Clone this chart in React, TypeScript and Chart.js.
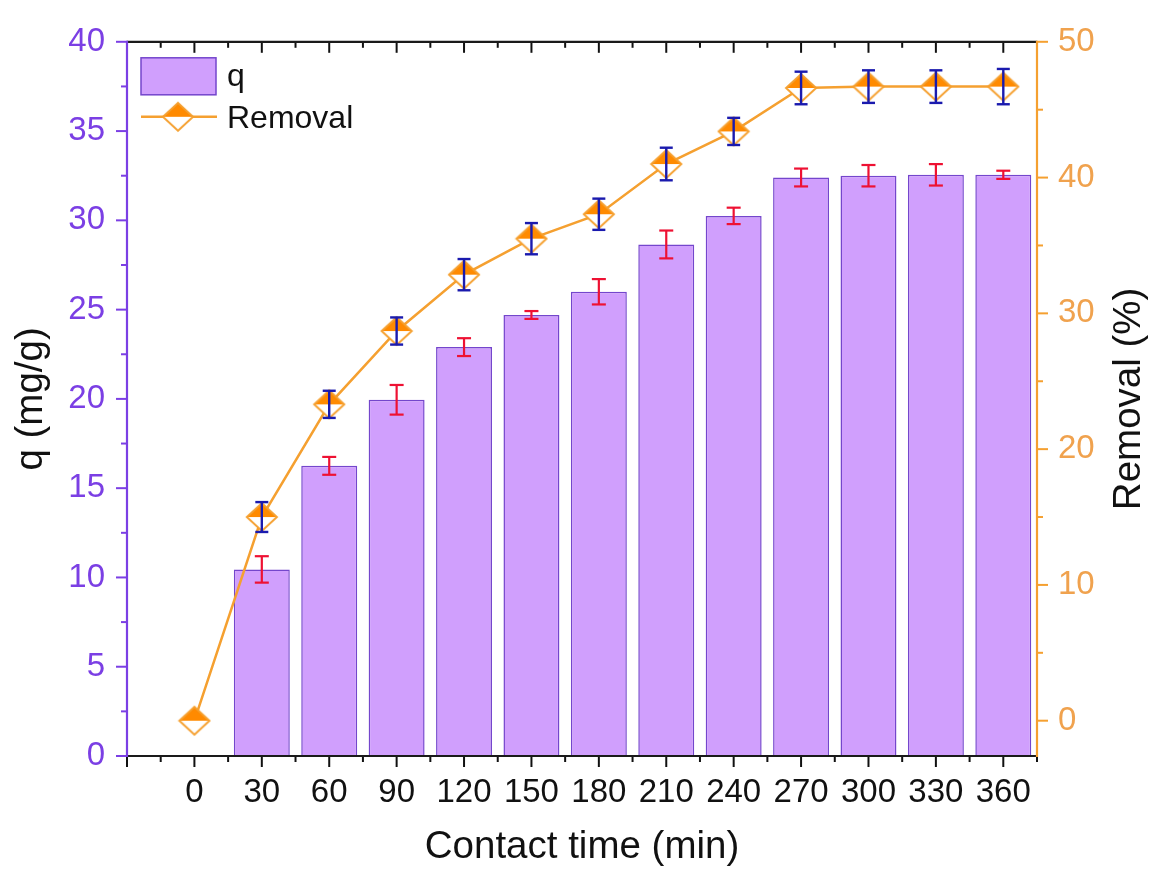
import React, { useEffect, useRef } from 'react';
import { Chart, registerables } from 'chart.js';

Chart.register(...registerables);

// ---------- data ----------
const timeValues = [0, 30, 60, 90, 120, 150, 180, 210, 240, 270, 300, 330, 360];
const qTimes = [30, 60, 90, 120, 150, 180, 210, 240, 270, 300, 330, 360];
const qValues = [10.45, 16.25, 19.95, 22.9, 24.7, 26.0, 28.65, 30.25, 32.4, 32.5, 32.55, 32.55];
const qErrors = [0.74, 0.5, 0.83, 0.5, 0.22, 0.71, 0.78, 0.46, 0.5, 0.6, 0.6, 0.23];
const removalValues = [0, 15.0, 23.3, 28.7, 32.85, 35.5, 37.3, 41.0, 43.4, 46.6, 46.7, 46.7, 46.7];
const removalErrors = [0, 1.1, 1.0, 1.0, 1.15, 1.15, 1.15, 1.2, 1.0, 1.2, 1.2, 1.2, 1.3];
const xTickValues = [0, 30, 60, 90, 120, 150, 180, 210, 240, 270, 300, 330, 360];
const leftTickValues = [0, 5, 10, 15, 20, 25, 30, 35, 40];
const rightTickValues = [0, 10, 20, 30, 40, 50];
const rightTitle = 'Removal (%)';

// ---------- styles ----------
const FONT = "'Liberation Sans', Arial, sans-serif";
const TICK_SIZE = 33;
const TITLE_SIZE = 38.5;
const BAR_FILL = '#D09FFD';
const BAR_BORDER = '#7446CC';
const PURPLE = '#7B3FE4';
const ORANGE_LINE = '#F5A030';
const ORANGE_TEXT = '#F0A24E';
const MARKER_FILL = '#FF8A00';
const RED = '#EE1133';
const BLUE = '#1A1AAE';

function makeMarker(w: number, h: number): HTMLCanvasElement {
  const c = document.createElement('canvas');
  c.width = w + 4;
  c.height = h + 4;
  const ctx = c.getContext('2d')!;
  const cx = c.width / 2;
  const cy = c.height / 2;
  ctx.beginPath();
  ctx.moveTo(cx - w / 2, cy);
  ctx.lineTo(cx, cy + h / 2);
  ctx.lineTo(cx + w / 2, cy);
  ctx.closePath();
  ctx.fillStyle = '#ffffff';
  ctx.fill();
  ctx.beginPath();
  ctx.moveTo(cx - w / 2, cy);
  ctx.lineTo(cx, cy - h / 2);
  ctx.lineTo(cx + w / 2, cy);
  ctx.closePath();
  ctx.fillStyle = MARKER_FILL;
  ctx.fill();
  ctx.beginPath();
  ctx.moveTo(cx - w / 2, cy);
  ctx.lineTo(cx, cy - h / 2);
  ctx.lineTo(cx + w / 2, cy);
  ctx.lineTo(cx, cy + h / 2);
  ctx.closePath();
  ctx.strokeStyle = ORANGE_LINE;
  ctx.lineWidth = 2;
  ctx.stroke();
  return c;
}

function seg(ctx: CanvasRenderingContext2D, x1: number, y1: number, x2: number, y2: number, color: string, w: number) {
  ctx.beginPath();
  ctx.moveTo(x1, y1);
  ctx.lineTo(x2, y2);
  ctx.strokeStyle = color;
  ctx.lineWidth = w;
  ctx.stroke();
}

function drawErrorBar(ctx: CanvasRenderingContext2D, x: number, yTop: number, yBot: number, color: string, cap: number, w: number) {
  seg(ctx, x, yTop, x, yBot, color, w);
  seg(ctx, x - cap / 2, yTop, x + cap / 2, yTop, color, w);
  seg(ctx, x - cap / 2, yBot, x + cap / 2, yBot, color, w);
}

export default function App() {
  const ref = useRef<HTMLCanvasElement | null>(null);

  useEffect(() => {
    if (!ref.current) return;
    const marker = makeMarker(30, 28);

    const plugin = {
      id: 'customDecor',
      afterDatasetDraw(chart: any, args: any) {
        const ctx = chart.ctx as CanvasRenderingContext2D;
        const meta = args.meta;
        ctx.save();
        if (args.index === 0) {
          const ys = chart.scales.y;
          meta.data.forEach((el: any, i: number) => {
            const t = ys.getPixelForValue(qValues[i] + qErrors[i]);
            const b = ys.getPixelForValue(qValues[i] - qErrors[i]);
            drawErrorBar(ctx, el.x, t, b, RED, 14, 2.2);
          });
        } else if (args.index === 1) {
          const ys = chart.scales.y1;
          meta.data.forEach((el: any, i: number) => {
            if (!removalErrors[i]) return;
            const t = ys.getPixelForValue(removalValues[i] + removalErrors[i]);
            const b = ys.getPixelForValue(removalValues[i] - removalErrors[i]);
            drawErrorBar(ctx, el.x, t, b, BLUE, 13, 2.4);
          });
        }
        ctx.restore();
      },
      afterDraw(chart: any) {
        const ctx = chart.ctx as CanvasRenderingContext2D;
        const ca = chart.chartArea;
        const xs = chart.scales.x;
        const ys = chart.scales.y;
        const y1 = chart.scales.y1;
        ctx.save();
        ctx.lineCap = 'butt';
        // x axis (bottom + top)
        for (let v = xs.min; v <= xs.max + 0.01; v += 15) {
          const px = xs.getPixelForValue(v);
          const major = Math.abs(v % 30) < 0.01;
          const len = major ? 11 : 6;
          seg(ctx, px, ca.bottom, px, ca.bottom + len, '#111', 2);
          seg(ctx, px, ca.top, px, ca.top + len, '#111', 2);
        }
        seg(ctx, ca.left, ca.bottom, ca.right, ca.bottom, '#1a1a1a', 2.2);
        seg(ctx, ca.left, ca.top, ca.right, ca.top, '#1a1a1a', 2.2);
        // left axis
        for (let v = 0; v <= ys.max + 0.01; v += 2.5) {
          const py = ys.getPixelForValue(v);
          const major = Math.abs(v % 5) < 0.01;
          seg(ctx, ca.left, py, ca.left - (major ? 11 : 6), py, PURPLE, 2);
        }
        seg(ctx, ca.left, ca.top - 1, ca.left, ca.bottom + 1, PURPLE, 2.2);
        // right axis
        for (let v = 0; v <= y1.max + 0.01; v += 5) {
          const py = y1.getPixelForValue(v);
          const major = Math.abs(v % 10) < 0.01;
          seg(ctx, ca.right, py, ca.right + (major ? 11 : 6), py, ORANGE_LINE, 2);
        }
        seg(ctx, ca.right, ca.top - 1, ca.right, ca.bottom + 1, ORANGE_LINE, 2.2);

        // right axis title (reads bottom-to-top)
        ctx.save();
        ctx.translate(y1.right - 21, (ca.top + ca.bottom) / 2);
        ctx.rotate(-Math.PI / 2);
        ctx.fillStyle = '#111';
        ctx.font = `${TITLE_SIZE}px ${FONT}`;
        ctx.textAlign = 'center';
        ctx.textBaseline = 'middle';
        ctx.fillText(rightTitle, 0, 0);
        ctx.restore();

        // legend
        const lx = ca.left + 14;
        const ly = ca.top + 16;
        ctx.fillStyle = BAR_FILL;
        ctx.fillRect(lx, ly, 75, 37);
        ctx.strokeStyle = BAR_BORDER;
        ctx.lineWidth = 1.5;
        ctx.strokeRect(lx, ly, 75, 37);
        ctx.fillStyle = '#111';
        ctx.font = `32px ${FONT}`;
        ctx.textBaseline = 'alphabetic';
        ctx.textAlign = 'left';
        ctx.fillText(chart.data.datasets[0].label, lx + 86, ly + 28);
        const rowY = ly + 59;
        seg(ctx, lx, rowY, lx + 76, rowY, ORANGE_LINE, 2.5);
        ctx.drawImage(marker, lx + 37 - marker.width / 2, rowY - marker.height / 2);
        ctx.fillStyle = '#111';
        ctx.fillText(chart.data.datasets[1].label, lx + 86, rowY + 11);
        ctx.restore();
      },
    };

    const chart = new Chart(ref.current, {
      type: 'bar',
      data: {
        datasets: [
          {
            type: 'bar',
            label: 'q',
            data: qTimes.map((t, i) => ({ x: t, y: qValues[i] })),
            xAxisID: 'x',
            yAxisID: 'y',
            backgroundColor: BAR_FILL,
            borderColor: BAR_BORDER,
            borderWidth: 1.5,
            barPercentage: 0.83,
            categoryPercentage: 1,
            order: 2,
          } as any,
          {
            type: 'line',
            label: 'Removal',
            data: timeValues.map((t, i) => ({ x: t, y: removalValues[i] })),
            xAxisID: 'x',
            yAxisID: 'y1',
            borderColor: ORANGE_LINE,
            borderWidth: 2.5,
            tension: 0,
            pointStyle: marker,
            pointRadius: 15,
            order: 1,
          } as any,
        ],
      },
      options: {
        responsive: false,
        devicePixelRatio: 1,
        animation: false,
        layout: { padding: { top: 33, left: 0, right: 0, bottom: 0 } },
        plugins: {
          legend: { display: false },
          tooltip: { enabled: false },
        },
        scales: {
          x: {
            type: 'linear',
            min: -30,
            max: 375,
            offset: false,
            afterBuildTicks: (s: any) => {
              s.ticks = xTickValues.map((v) => ({ value: v }));
            },
            afterFit: (s: any) => {
              s.height = 116;
            },
            grid: { display: false, drawTicks: false },
            border: { display: false },
            ticks: {
              autoSkip: false,
              maxRotation: 0,
              padding: 17,
              color: '#111',
              font: { family: FONT, size: TICK_SIZE },
            },
            title: {
              display: true,
              text: 'Contact time (min)',
              color: '#111',
              font: { family: FONT, size: TITLE_SIZE, lineHeight: 1 },
              padding: { top: 0, bottom: 5 },
            },
          },
          y: {
            type: 'linear',
            position: 'left',
            min: 0,
            max: 40,
            afterBuildTicks: (s: any) => {
              s.ticks = leftTickValues.map((v) => ({ value: v }));
            },
            afterFit: (s: any) => {
              s.width = 127;
            },
            grid: { display: false, drawTicks: false },
            border: { display: false },
            ticks: {
              padding: 22,
              color: PURPLE,
              font: { family: FONT, size: TICK_SIZE },
            },
            title: {
              display: true,
              text: 'q (mg/g)',
              color: '#111',
              font: { family: FONT, size: TITLE_SIZE, lineHeight: 1 },
              padding: { top: 12, bottom: 0 },
            },
          },
          y1: {
            type: 'linear',
            position: 'right',
            min: -2.6,
            max: 50,
            afterBuildTicks: (s: any) => {
              s.ticks = rightTickValues.map((v) => ({ value: v }));
            },
            afterFit: (s: any) => {
              s.width = 113;
            },
            grid: { display: false, drawTicks: false },
            border: { display: false },
            ticks: {
              padding: 21,
              color: ORANGE_TEXT,
              font: { family: FONT, size: TICK_SIZE },
            },
            title: { display: false },
          },
        },
      } as any,
      plugins: [plugin],
    });

    return () => {
      chart.destroy();
    };
  }, []);

  return (
    <div style={{ position: 'absolute', left: 0, top: 0, width: 1150, height: 872, background: '#fff' }}>
      <canvas ref={ref} width={1150} height={872} style={{ width: 1150, height: 872, display: 'block' }} />
    </div>
  );
}
